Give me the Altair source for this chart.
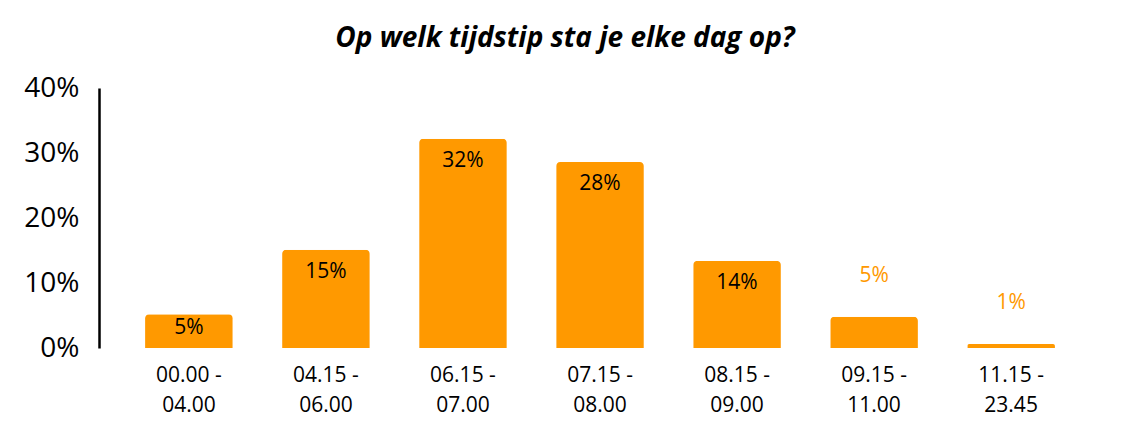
import altair as alt
import pandas as pd

categories = ["00.00 - 04.00", "04.15 - 06.00", "06.15 - 07.00", "07.15 - 08.00",
              "08.15 - 09.00", "09.15 - 11.00", "11.15 - 23.45"]
values = [5.2, 15.1, 32.2, 28.6, 13.4, 4.8, 0.6]
labels = ["5%", "15%", "32%", "28%", "14%", "5%", "1%"]

df = pd.DataFrame({"cat": categories, "value": values, "label": labels})

ORANGE = "#FF9900"
FONT = "Open Sans"

x = alt.X("cat:N", sort=categories, title=None,
          scale=alt.Scale(paddingInner=0.36, paddingOuter=0.336),
          axis=alt.Axis(labelAngle=0, domain=False, ticks=False, labelFont=FONT,
                        labelFontSize=21, labelColor="#000000", labelPadding=16,
                        labelBaseline="top", labelLineHeight=30,
                        labelExpr="[split(datum.label, ' - ')[0] + ' -', split(datum.label, ' - ')[1]]"))
y = alt.Y("value:Q", title=None,
          scale=alt.Scale(domain=[0, 40], nice=False),
          axis=alt.Axis(values=[0, 10, 20, 30, 40], labelExpr="datum.value + '%'", grid=False,
                        ticks=False, domainColor="#000000", domainWidth=2.5, labelFont=FONT,
                        labelFontSize=28, labelColor="#000000", labelPadding=20))

bars = alt.Chart(df).mark_bar(color=ORANGE, cornerRadiusTopLeft=4, cornerRadiusTopRight=4).encode(x=x, y=y)

inside_small = alt.Chart(df).transform_filter("datum.value >= 5 && datum.value < 8").mark_text(
    font=FONT, fontSize=21, color="#000000", baseline="middle", dy=14
).encode(x=alt.X("cat:N", sort=categories), y="value:Q", text="label:N")

inside_big = alt.Chart(df).transform_filter("datum.value >= 8").mark_text(
    font=FONT, fontSize=21, color="#000000", baseline="middle", dy=22
).encode(x=alt.X("cat:N", sort=categories), y="value:Q", text="label:N")

outside = alt.Chart(df).transform_filter("datum.value < 5").mark_text(
    font=FONT, fontSize=21, color=ORANGE, baseline="middle", dy=-41
).encode(x=alt.X("cat:N", sort=categories), y="value:Q", text="label:N")

chart = alt.layer(bars, inside_small, inside_big, outside).properties(
    width=1002, height=260,
    background="#ffffff",
    padding={"top": 17, "left": 15, "right": 5, "bottom": 5},
    title=alt.TitleParams("Op welk tijdstip sta je elke dag op?", font=FONT, fontSize=28,
                          fontWeight="bold", fontStyle="italic", color="#000000",
                          anchor="middle", dx=-35, offset=21),
).configure_view(strokeWidth=0)

chart.save("out.html", embed_options={"renderer": "svg", "actions": False})
